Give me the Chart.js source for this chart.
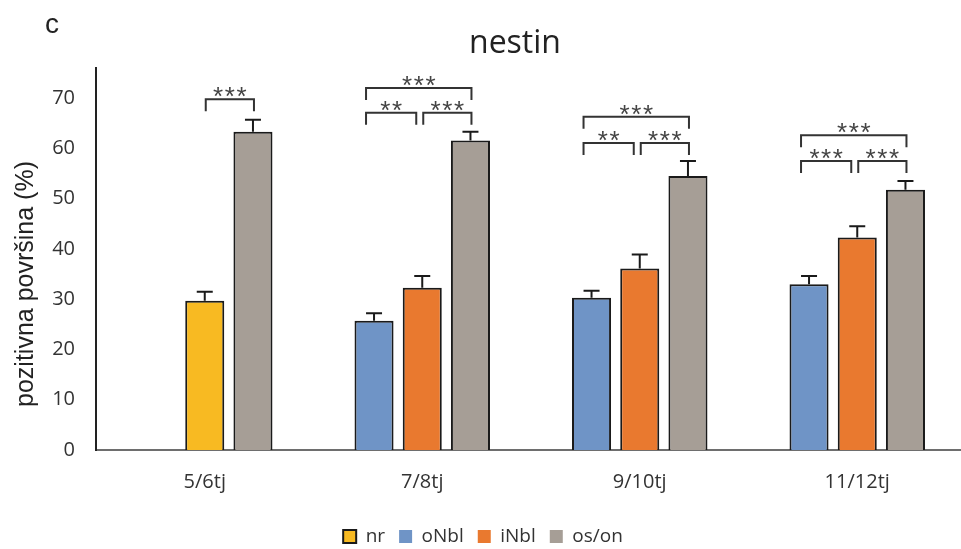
<!DOCTYPE html>
<html>
<head>
<meta charset="utf-8">
<script src="https://cdn.jsdelivr.net/npm/chart.js@4"></script>
<style>
  body { margin: 0; overflow: hidden; background: #fff; }
  #wrap { position: relative; width: 970px; height: 556px; }
</style>
</head>
<body>
<div id="wrap"><canvas id="chart"></canvas></div>
<script>
// Chart data
const categories = ['5/6tj', '7/8tj', '9/10tj', '11/12tj'];
const nr = [29.7, null, null, null];
const nrErr = [1.8, null, null, null];
const oNbl = [null, 25.7, 30.3, 33.0];
const oNblErr = [null, 1.5, 1.4, 1.6];
const iNbl = [null, 32.3, 36.1, 42.3];
const iNblErr = [null, 2.3, 2.8, 2.2];
const osOn = [63.3, 61.6, 54.5, 51.8];
const osOnErr = [2.4, 1.7, 3.0, 1.7];
const yTicks = [0, 10, 20, 30, 40, 50, 60, 70];

// significance brackets: [category, fromBar, toBar, level, label]
const brackets = [
    [0, 1, 2, 69.8, '***'],
    [1, 0, 2, 72.0, '***'],
    [1, 0, 1, 67.1, '**'],
    [1, 1, 2, 67.1, '***'],
    [2, 0, 2, 66.3, '***'],
    [2, 0, 1, 61.1, '**'],
    [2, 1, 2, 61.1, '***'],
    [3, 0, 2, 62.6, '***'],
    [3, 0, 1, 57.5, '***'],
    [3, 1, 2, 57.5, '***']
];

const colors = {
    nr: '#F8BA22',
    oNbl: '#6F94C6',
    iNbl: '#E9792F',
    osOn: '#A69E96'
};

// nr and iNbl share the middle slot of each group
const middle = nr.map((v, i) => v ?? iNbl[i]);
const middleErr = nrErr.map((v, i) => v ?? iNblErr[i]);
const middleColors = nr.map(v => v !== null ? colors.nr : colors.iNbl);
const errors = [oNblErr, middleErr, osOnErr];

const errorBars = {
    id: 'errorBars',
    afterDatasetsDraw(chart) {
        const ctx = chart.ctx;
        const y = chart.scales.y;
        ctx.save();
        ctx.strokeStyle = '#1a1a1a';
        ctx.lineWidth = 2;
        chart.data.datasets.forEach((ds, d) => {
            chart.getDatasetMeta(d).data.forEach((bar, i) => {
                const v = ds.data[i];
                const e = errors[d][i];
                if (v === null || e === null) return;
                const top = y.getPixelForValue(v + e);
                ctx.beginPath();
                ctx.moveTo(bar.x, bar.y);
                ctx.lineTo(bar.x, top);
                ctx.moveTo(bar.x - 8, top);
                ctx.lineTo(bar.x + 8, top);
                ctx.stroke();
            });
        });
        ctx.restore();
    }
};

const annotations = {
    id: 'annotations',
    afterDraw(chart) {
        const ctx = chart.ctx;
        const y = chart.scales.y;
        ctx.save();

        // brackets with stars
        brackets.forEach(([cat, from, to, level, label]) => {
            const xa = chart.getDatasetMeta(from).data[cat].x + (from === 0 ? -8 : 1);
            const xb = chart.getDatasetMeta(to).data[cat].x + (to === 1 ? -6 : 1);
            const top = y.getPixelForValue(level);
            ctx.strokeStyle = '#333';
            ctx.lineWidth = 2;
            ctx.beginPath();
            ctx.moveTo(xa, top + 12);
            ctx.lineTo(xa, top);
            ctx.lineTo(xb, top);
            ctx.lineTo(xb, top + 12);
            ctx.stroke();

            ctx.fillStyle = '#444';
            ctx.font = '26px "Liberation Sans"';
            ctx.textAlign = 'center';
            ctx.textBaseline = 'alphabetic';
            const mid = (xa + xb) / 2;
            const n = label.length;
            for (let k = 0; k < n; k++) {
                ctx.fillText('*', mid + (k - (n - 1) / 2) * 11.7, top + 6);
            }
        });

        // panel letter and title
        ctx.fillStyle = '#222';
        ctx.textAlign = 'left';
        ctx.font = '28px "Liberation Sans"';
        ctx.fillText('c', 45, 33);
        ctx.textAlign = 'center';
        ctx.font = '32px "Open Sans"';
        ctx.fillText('nestin', 515, 53);

        // y axis title
        ctx.translate(33, 284);
        ctx.rotate(-Math.PI / 2);
        ctx.font = '25px "Liberation Sans"';
        ctx.fillText('pozitivna površina (%)', 0, 0);
        ctx.restore();
    }
};

function buildLegend() {
    return [
        { text: 'nr', fillStyle: colors.nr, strokeStyle: '#1a1a1a', lineWidth: 2, fontColor: '#333' },
        { text: 'oNbl', fillStyle: colors.oNbl, strokeStyle: colors.oNbl, lineWidth: 0, fontColor: '#333' },
        { text: 'iNbl', fillStyle: colors.iNbl, strokeStyle: colors.iNbl, lineWidth: 0, fontColor: '#333' },
        { text: 'os/on', fillStyle: colors.osOn, strokeStyle: colors.osOn, lineWidth: 0, fontColor: '#333' }
    ];
}

document.addEventListener('DOMContentLoaded', () => {
    const barStyle = {
        borderColor: '#1a1a1a',
        borderWidth: 2,
        categoryPercentage: 0.665,
        barPercentage: 0.81
    };

    new Chart(document.getElementById('chart'), {
        type: 'bar',
        data: {
            labels: categories,
            datasets: [
                { label: 'oNbl', data: oNbl, backgroundColor: colors.oNbl, ...barStyle },
                { label: 'nr / iNbl', data: middle, backgroundColor: middleColors, ...barStyle },
                { label: 'os/on', data: osOn, backgroundColor: colors.osOn, ...barStyle }
            ]
        },
        options: {
            responsive: true,
            maintainAspectRatio: false,
            animation: false,
            layout: { padding: { top: 68, left: 0, right: 4, bottom: 0 } },
            scales: {
                x: {
                    grid: { display: false, drawTicks: false },
                    border: { display: true, color: '#6e6e6e', width: 2 },
                    ticks: {
                        color: '#333',
                        padding: 20,
                        font: { family: 'Open Sans', size: 20 }
                    },
                    afterFit(scale) {
                        const lg = scale.chart.legend ? scale.chart.legend.height : 34;
                        scale.height = scale.chart.height - 450 - lg;
                    }
                },
                y: {
                    min: 0,
                    max: 76,
                    grid: { display: false, drawTicks: false },
                    border: { display: true, color: '#222', width: 2 },
                    afterBuildTicks(scale) {
                        scale.ticks = yTicks.map(v => ({ value: v }));
                    },
                    ticks: {
                        color: '#333',
                        padding: 21,
                        font: { family: 'Open Sans', size: 20 }
                    },
                    afterFit(scale) {
                        scale.width = 96;
                    }
                }
            },
            plugins: {
                legend: {
                    position: 'bottom',
                    labels: {
                        boxWidth: 13,
                        boxHeight: 13,
                        padding: 14,
                        color: '#333',
                        font: { family: 'Open Sans', size: 19 },
                        generateLabels: buildLegend
                    }
                },
                tooltip: { enabled: false }
            }
        },
        plugins: [errorBars, annotations]
    });
});
</script>
</body>
</html>
